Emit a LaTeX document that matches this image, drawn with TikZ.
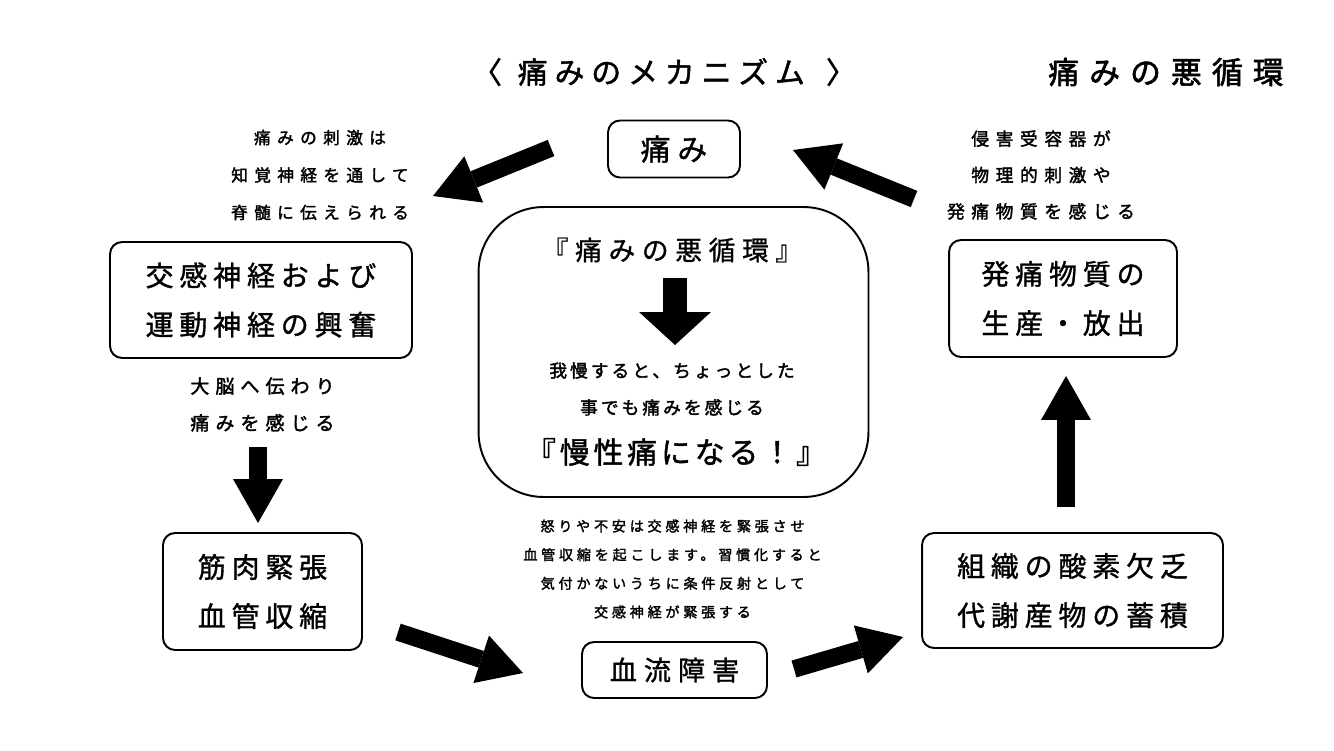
\documentclass[tikz,border=0pt]{standalone}
\usepackage{fontspec}
\setmainfont{Noto Sans CJK JP}
\usetikzlibrary{arrows.meta}
\newcommand\jf[4]{\fontsize{#1}{#2}\selectfont\addfontfeature{LetterSpace=#3,FakeBold=#4}}
\begin{document}
\begin{tikzpicture}[x=0.02cm,y=-0.02cm,
 box/.style={draw, line width=1.1pt, rounded corners=0.24cm, align=center, inner sep=0pt},
 boxtext/.style={font=\jf{15.9}{28}{21}{1.2}},
 lbl/.style={align=center, inner sep=0pt},
 fat/.style={line width=0.35cm, -{Triangle[width=1.0cm,length=0.88cm,line width=0pt]}},
]
\useasboundingbox (0,0) rectangle (1334,750);
% titles
\node[lbl, font=\jf{17}{20}{23}{1.5}] (title) at (664,72) {〈\hspace{9pt}痛みのメカニズム\hspace{12pt}〉};
\node[lbl, font=\jf{17.5}{20}{33}{2}] (title2) at (1166,72) {痛みの悪循環};
% boxes
\node[box, minimum width=2.64cm, minimum height=1.14cm, font=\jf{17}{20}{23}{1.2}] (pain) at (674,149) {痛み};
\node[box, boxtext, minimum width=6.04cm, minimum height=2.32cm] (symp) at (261,300) {交感神経および\\運動神経の興奮};
\node[box, boxtext, minimum width=3.98cm, minimum height=2.34cm] (musc) at (262.5,591.5) {筋肉緊張\\血管収縮};
\node[box, font=\jf{15.4}{20}{26}{1.2}, minimum width=3.7cm, minimum height=1.12cm] (flow) at (674.5,670) {血流障害};
\node[box, boxtext, minimum width=6.02cm, minimum height=2.3cm] (oxy) at (1072.5,590.5) {組織の酸素欠乏\\代謝産物の蓄積};
\node[box, boxtext, minimum width=4.56cm, minimum height=2.34cm] (sub) at (1063,298.5) {発痛物質の\\生産・放出};
\node[box, rounded corners=1.3cm, minimum width=7.8cm, minimum height=5.8cm] (center) at (673.5,352) {};
% inside center
\node[lbl, font=\jf{15.2}{20}{25}{1}] (c1) at (672,250) {『痛みの悪循環』};
\node[lbl, font=\jf{10.1}{21}{17}{2}] (c2) at (672,389) {我慢すると、ちょっとした\\事でも痛みを感じる};
\node[lbl, font=\jf{17}{20}{13}{1.5}] (c3) at (676,452) {『慢性痛になる！』};
\coordinate (ca1) at (675,278);
\coordinate (ca2) at (675,345);
\draw[line width=0.48cm, -{Triangle[width=1.44cm,length=0.66cm,line width=0pt]}] (ca1) -- (ca2);
% side texts
\node[lbl, font=\jf{9.5}{21.3}{38}{2}] (t1) at (320,175) {痛みの刺激は\\知覚神経を通して\\脊髄に伝えられる};
\node[lbl, font=\jf{10.8}{21}{32}{2}] (t2) at (262.5,404.5) {大脳へ伝わり\\痛みを感じる};
\node[lbl, font=\jf{10.1}{20.7}{37}{2}] (t3) at (1041,175) {侵害受容器が\\物理的刺激や\\発痛物質を感じる};
\node[lbl, font=\jf{8}{16.3}{27}{2}] (t4) at (672.5,569) {怒りや不安は交感神経を緊張させ\\血管収縮を起こします。習慣化すると\\気付かないうちに条件反射として\\交感神経が緊張する};
% arrows
\coordinate (a1s) at (551,148); \coordinate (a1e) at (433,196);
\coordinate (a2s) at (258,447); \coordinate (a2e) at (258,523);
\coordinate (a3s) at (398,632); \coordinate (a3e) at (523,673);
\coordinate (a4s) at (794,669); \coordinate (a4e) at (903,637);
\coordinate (a5s) at (1066,507); \coordinate (a5e) at (1066,376);
\coordinate (a6s) at (914,199); \coordinate (a6e) at (793,150);
\draw[fat] (a1s) -- (a1e);
\draw[fat] (a2s) -- (a2e);
\draw[fat] (a3s) -- (a3e);
\draw[fat] (a4s) -- (a4e);
\draw[fat] (a5s) -- (a5e);
\draw[fat] (a6s) -- (a6e);
\end{tikzpicture}
\end{document}
